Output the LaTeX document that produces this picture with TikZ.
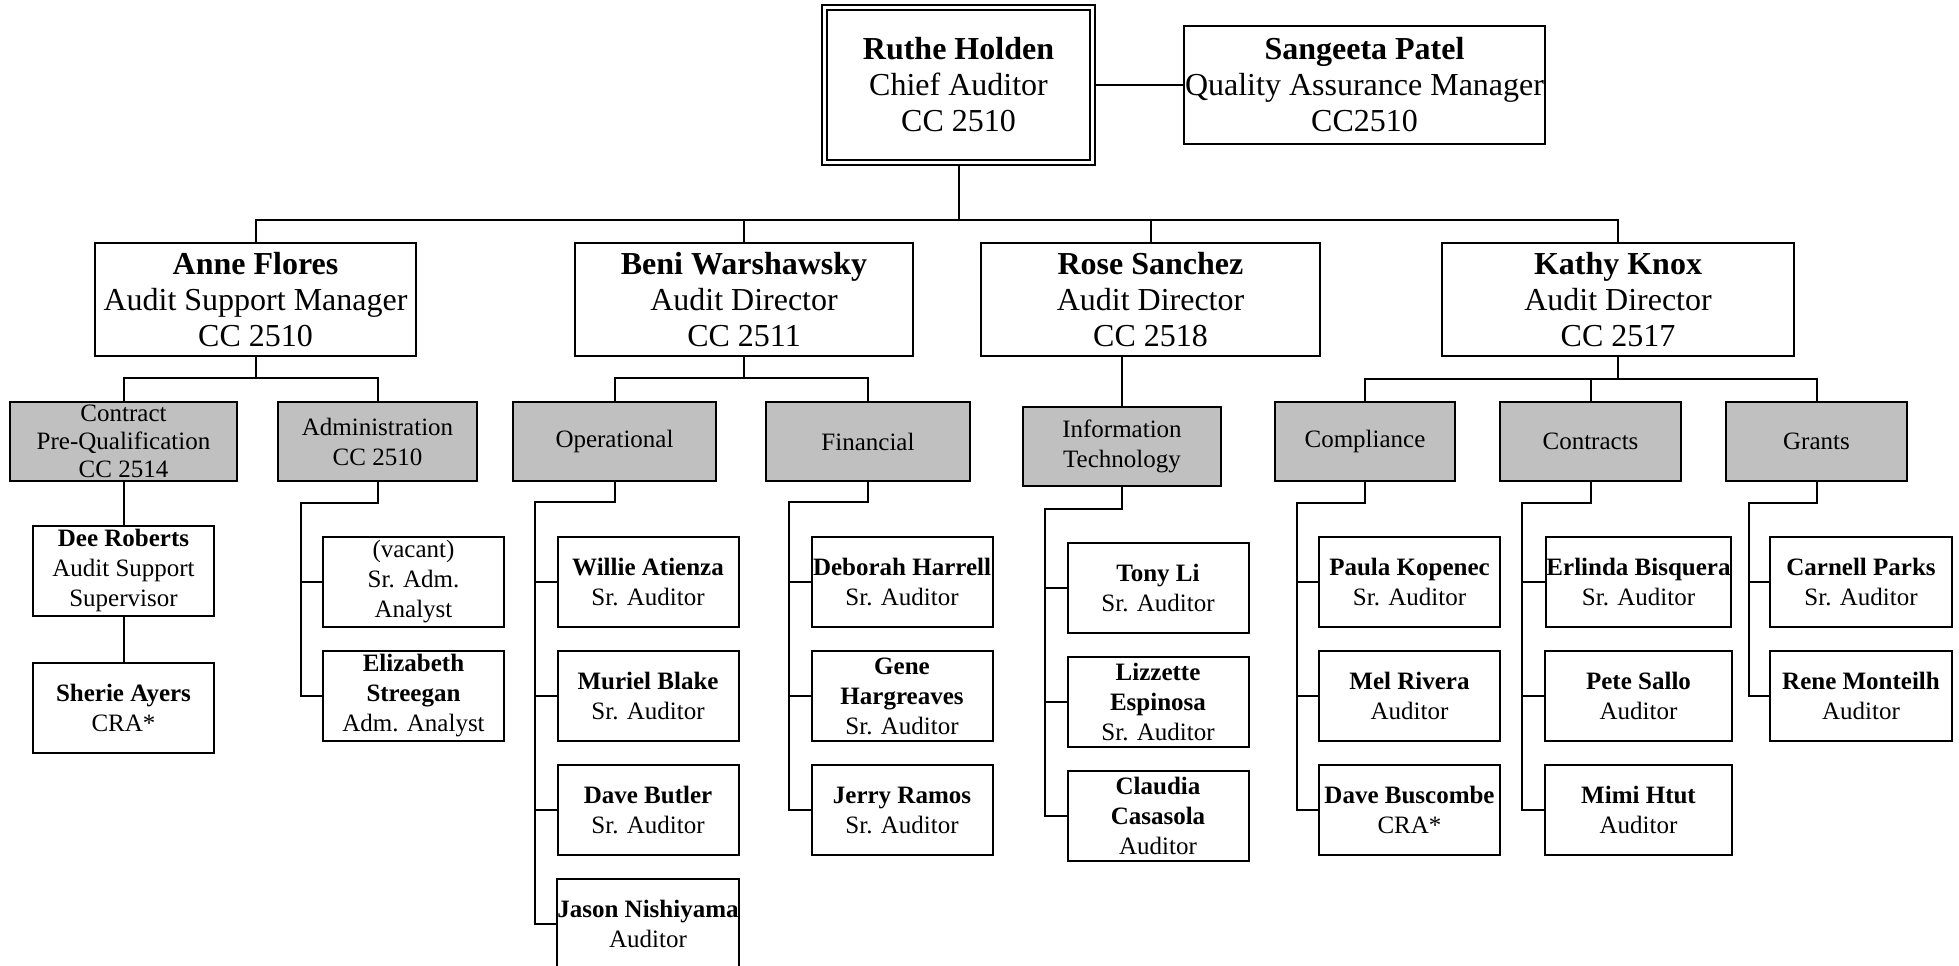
\documentclass[tikz,border=0pt]{standalone}
\usepackage{fontspec}
\setmainfont{Liberation Serif}
\usepackage{tikz}
\usetikzlibrary{positioning, calc}
\usepackage{xcolor}
\definecolor{unitgray}{RGB}{192,192,192}
\newcommand{\bigtxt}{\fontsize{16}{18}\selectfont}
\newcommand{\smalltxt}{\fontsize{12.5}{15}\selectfont}

\begin{document}
\begin{tikzpicture}[
    x=0.5pt, y=-0.5pt,
    chief/.style={rectangle, draw, double, double distance=1.7pt, line width=0.8pt, inner sep=0pt, align=center, font=\bigtxt, minimum width=134pt, minimum height=77.5pt},
    head/.style={rectangle, draw, line width=1pt, inner sep=0pt, align=center, font=\bigtxt, minimum height=56.5pt},
    unit/.style={rectangle, draw, line width=1pt, fill=unitgray, inner sep=0pt, align=center, font=\smalltxt, minimum height=39.5pt},
    staff/.style={rectangle, draw, line width=1pt, inner sep=0pt, align=center, font=\smalltxt, minimum width=90.5pt, minimum height=45pt},
    link/.style={line width=1pt}
]
\useasboundingbox (0,0) rectangle (1959,965);

\node[chief] (ruthe) at (958.5,85) {\textbf{Ruthe Holden}\\Chief Auditor\\CC 2510};
\node[head, minimum width=180.5pt, minimum height=59pt] (sangeeta) at (1364.5,85) {\textbf{Sangeeta Patel}\\Quality Assurance Manager\\CC2510};

\node[head, minimum width=160.5pt] (anne) at (255.5,299.5) {\textbf{Anne Flores}\\Audit Support Manager\\CC 2510};
\node[head, minimum width=169pt] (beni) at (744,299.5) {\textbf{Beni Warshawsky}\\Audit Director\\CC 2511};
\node[head, minimum width=169.5pt] (rose) at (1150.5,299.5) {\textbf{Rose Sanchez}\\Audit Director\\CC 2518};
\node[head, minimum width=176pt] (kathy) at (1618,299.5) {\textbf{Kathy Knox}\\Audit Director\\CC 2517};

\node[unit, minimum width=113.5pt, font=\fontsize{12.5}{14}\selectfont] (contract) at (123.5,441.5) {Contract\\Pre-Qualification\\CC 2514};
\node[unit, minimum width=99.5pt] (admin) at (377.5,441.5) {Administration\\CC 2510};
\node[unit, minimum width=101.5pt] (ops) at (614.5,441.5) {Operational};
\node[unit, minimum width=102pt] (fin) at (868,441.5) {Financial};
\node[unit, minimum width=99pt] (infotech) at (1122,446) {Information\\Technology};
\node[unit, minimum width=90pt] (compl) at (1365,441.5) {Compliance};
\node[unit, minimum width=90.5pt] (contracts) at (1590.5,441.5) {Contracts};
\node[unit, minimum width=90.5pt] (grants) at (1816.5,441.5) {Grants};

% contract pre-qualification and administration
\node[staff] (dee) at (123.5,570.5) {\textbf{Dee Roberts}\\Audit Support\\Supervisor};
\node[staff, below=22.5pt of dee] (sherie) {\textbf{Sherie Ayers}\\CRA*};
\node[staff] (vacant) at (413.5,582) {(vacant)\\Sr. Adm.\\Analyst};
\node[staff, below=11pt of vacant] (elizabeth) {\textbf{Elizabeth}\\\textbf{Streegan}\\Adm. Analyst};

% operational and financial
\node[staff] (willie) at (648,582) {\textbf{Willie Atienza}\\Sr. Auditor};
\node[staff, below=11pt of willie] (muriel) {\textbf{Muriel Blake}\\Sr. Auditor};
\node[staff, below=11pt of muriel] (butler) {\textbf{Dave Butler}\\Sr. Auditor};
\node[staff, below=11pt of butler] (jason) {\textbf{Jason Nishiyama}\\Auditor};
\node[staff] (deborah) at (902,582) {\textbf{Deborah Harrell}\\Sr. Auditor};
\node[staff, below=11pt of deborah] (gene) {\textbf{Gene}\\\textbf{Hargreaves}\\Sr. Auditor};
\node[staff, below=11pt of gene] (jerry) {\textbf{Jerry Ramos}\\Sr. Auditor};

% information technology
\node[staff] (tony) at (1158,587.5) {\textbf{Tony Li}\\Sr. Auditor};
\node[staff, below=11pt of tony] (lizzette) {\textbf{Lizzette}\\\textbf{Espinosa}\\Sr. Auditor};
\node[staff, below=11pt of lizzette] (claudia) {\textbf{Claudia}\\\textbf{Casasola}\\Auditor};

% compliance, contracts, grants
\node[staff] (paula) at (1409.5,582) {\textbf{Paula Kopenec}\\Sr. Auditor};
\node[staff, below=11pt of paula] (mel) {\textbf{Mel Rivera}\\Auditor};
\node[staff, below=11pt of mel] (buscombe) {\textbf{Dave Buscombe}\\CRA*};
\node[staff] (erlinda) at (1638.5,582) {\textbf{Erlinda Bisquera}\\Sr. Auditor};
\node[staff, below=11pt of erlinda, minimum width=93.5pt] (pete) {\textbf{Pete Sallo}\\Auditor};
\node[staff, below=11pt of pete, minimum width=93.5pt] (mimi) {\textbf{Mimi Htut}\\Auditor};
\node[staff, minimum width=91pt] (carnell) at (1861,582) {\textbf{Carnell Parks}\\Sr. Auditor};
\node[staff, below=11pt of carnell, minimum width=91pt] (rene) {\textbf{Rene Monteilh}\\Auditor};

\coordinate (topbus) at (958.5,220);
\coordinate (annebus) at (255.5,378);
\coordinate (benibus) at (744,378);
\coordinate (kathybus) at (1618,379);
\coordinate (admtrunk) at (301,503);
\coordinate (opstrunk) at (535,502);
\coordinate (fintrunk) at (789,502);
\coordinate (ittrunk) at (1045,509);
\coordinate (compltrunk) at (1297,503);
\coordinate (ctrtrunk) at (1522,503);
\coordinate (granttrunk) at (1749,503);

\draw[link] ([xshift=1.25pt]ruthe.east) -- (sangeeta.west);
\draw[link] ([yshift=-1.25pt]ruthe.south) -- (topbus);
\draw[link] (anne.north) |- (topbus) -| (kathy.north);
\draw[link] (beni.north) -- (beni.north |- topbus);
\draw[link] (rose.north) -- (rose.north |- topbus);

\draw[link] (anne.south) -- (annebus);
\draw[link] (contract.north) |- (annebus) -| (admin.north);
\draw[link] (beni.south) -- (benibus);
\draw[link] (ops.north) |- (benibus) -| (fin.north);
\draw[link] (infotech.north) -- (infotech.north |- rose.south);
\draw[link] (kathy.south) -- (kathybus);
\draw[link] (compl.north) |- (kathybus) -| (grants.north);
\draw[link] (contracts.north) -- (contracts.north |- kathybus);

\draw[link] (contract.south) -- (dee.north);
\draw[link] (dee.south) -- (sherie.north);
\draw[link] (admin.south) |- (admtrunk) |- (elizabeth.west);
\draw[link] (admtrunk |- vacant.west) -- (vacant.west);

\draw[link] (ops.south) |- (opstrunk) |- (jason.west);
\draw[link] (opstrunk |- willie.west) -- (willie.west);
\draw[link] (opstrunk |- muriel.west) -- (muriel.west);
\draw[link] (opstrunk |- butler.west) -- (butler.west);
\draw[link] (fin.south) |- (fintrunk) |- (jerry.west);
\draw[link] (fintrunk |- deborah.west) -- (deborah.west);
\draw[link] (fintrunk |- gene.west) -- (gene.west);

\draw[link] (infotech.south) |- (ittrunk) |- (claudia.west);
\draw[link] (ittrunk |- tony.west) -- (tony.west);
\draw[link] (ittrunk |- lizzette.west) -- (lizzette.west);

\draw[link] (compl.south) |- (compltrunk) |- (buscombe.west);
\draw[link] (compltrunk |- paula.west) -- (paula.west);
\draw[link] (compltrunk |- mel.west) -- (mel.west);
\draw[link] (contracts.south) |- (ctrtrunk) |- (mimi.west);
\draw[link] (ctrtrunk |- erlinda.west) -- (erlinda.west);
\draw[link] (ctrtrunk |- pete.west) -- (pete.west);
\draw[link] (grants.south) |- (granttrunk) |- (rene.west);
\draw[link] (granttrunk |- carnell.west) -- (carnell.west);

\end{tikzpicture}
\end{document}
